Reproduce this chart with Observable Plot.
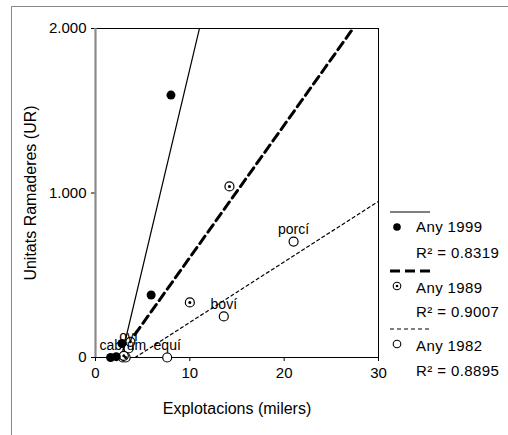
<!DOCTYPE html>
<html>
<head>
<meta charset="utf-8">
<script src="https://cdn.jsdelivr.net/npm/d3@7"></script>
<script src="https://cdn.jsdelivr.net/npm/@observablehq/plot@0.6"></script>
<style>
  html, body { margin: 0; padding: 0; background: #fff; }
  #wrap { position: relative; width: 508px; height: 435px; overflow: hidden; font-family: "Liberation Sans", Arial, sans-serif; }
  #frame { position: absolute; left: 11px; top: 6px; width: 497px; height: 429px; border-top: 1.5px solid #8a8a8a; border-left: 1.5px solid #8a8a8a; box-sizing: border-box; }
  #chart { position: absolute; left: 0; top: 0; }
  #legend { position: absolute; left: 0; top: 0; }
</style>
</head>
<body>
<div id="wrap">
  <div id="frame"></div>
  <div id="chart"></div>
  <svg id="legend" width="508" height="435"></svg>
</div>
<script>
// ---- data ----
const species = ["porcí", "boví", "oví", "cabrum", "equí"];
const x1999 = [8.0, 5.9, 2.8, 1.6, 2.2];
const y1999 = [1595, 380, 85, 0, 5];
const x1989 = [14.2, 10.0, 3.7, 3.2, 3.0];
const y1989 = [1040, 335, 95, 0, 10];
const x1982 = [21.0, 13.6, 3.5, 2.9, 7.6];
const y1982 = [705, 250, 55, 0, 0];
const years = ["Any 1999", "Any 1989", "Any 1982"];
const r2Values = ["0.8319", "0.9007", "0.8895"];
// fitted trend lines: y = slope * (x - xIntercept)
const fitSlope = [241.3, 80.45, 36.8];
const fitXIntercept = [2.73, 2.44, 4.2];
const fitXStart = [2.9, 3.3, 4.2];
const fitXEnd = [11.5, 28, 30];
const xTicks = [0, 10, 20, 30];
const yTicks = [0, 1000, 2000];

const pts = (xs, ys, year) => xs.map((x, i) => ({x, y: ys[i], species: species[i], year}));
const p1999 = pts(x1999, y1999, years[0]);
const p1989 = pts(x1989, y1989, years[1]);
const p1982 = pts(x1982, y1982, years[2]);
const fitLine = (k) => [fitXStart[k], fitXEnd[k]].map(x => ({x, y: fitSlope[k] * (x - fitXIntercept[k]), year: years[k]}));

const fmt = d => d === 0 ? "0" : d3.format(",")(d).replace(/,/g, ".");

const chart = Plot.plot({
  width: 508,
  height: 435,
  marginLeft: 95,
  marginRight: 130,
  marginTop: 28,
  marginBottom: 78,
  style: {fontFamily: "Liberation Sans, Arial, sans-serif", fontSize: "15px", color: "#000", background: "transparent", overflow: "visible"},
  x: {domain: [0, 30]},
  y: {domain: [0, 2000]},
  marks: [
    Plot.ruleY([2000], {stroke: "#000", strokeWidth: 1}),
    Plot.ruleX([30], {stroke: "#000", strokeWidth: 1}),
    Plot.axisX({ticks: xTicks, tickSize: 4, tickPadding: 6, label: null, fontSize: 15}),
    Plot.axisY({ticks: yTicks, tickSize: 4, tickPadding: 5, label: null, tickFormat: fmt, fontSize: 15}),
    Plot.ruleY([0], {stroke: "#000", strokeWidth: 1.2}),
    Plot.ruleX([0], {stroke: "#8a8a8a", strokeWidth: 2.2}),
    Plot.line(fitLine(0), {x: "x", y: "y", stroke: "#000", strokeWidth: 1.2, clip: true}),
    Plot.line(fitLine(1), {x: "x", y: "y", stroke: "#000", strokeWidth: 3, strokeDasharray: "9,5", clip: true}),
    Plot.line(fitLine(2), {x: "x", y: "y", stroke: "#000", strokeWidth: 1.2, strokeDasharray: "3,3", clip: true}),
    Plot.dot(p1982, {x: "x", y: "y", r: 4.5, stroke: "#000", strokeWidth: 1.2, fill: "#fff"}),
    Plot.dot(p1989, {x: "x", y: "y", r: 4.5, stroke: "#000", strokeWidth: 1.2, fill: "#fff"}),
    Plot.dot(p1989, {x: "x", y: "y", r: 1.5, fill: "#000", stroke: "none"}),
    Plot.dot(p1999, {x: "x", y: "y", r: 4.5, fill: "#000", stroke: "none"}),
    Plot.text(p1982, {x: "x", y: "y", text: "species", dy: -12, fontSize: 14, fill: "#000"}),
    Plot.text(["Explotacions (milers)"], {frameAnchor: "bottom", textAnchor: "middle", dy: 56, fontSize: 16, fill: "#000"}),
    Plot.text(["Unitats Ramaderes (UR)"], {frameAnchor: "left", textAnchor: "middle", dx: -65, rotate: -90, fontSize: 16, fill: "#000"})
  ]
});
document.getElementById("chart").appendChild(chart);

// ---- legend ----
const lg = d3.select("#legend");
const lx0 = 390, lx1 = 430, tx = 416, mx = 397;
const rows = [
  {lineY: 212, dash: null, w: 1.2, markY: 227, textY: 227, r2Y: 253, kind: "filled"},
  {lineY: 271, dash: "10,5", w: 3, markY: 286, textY: 288, r2Y: 312, kind: "dotted"},
  {lineY: 329, dash: "4,3", w: 1.2, markY: 344, textY: 346, r2Y: 371, kind: "open"}
];
rows.forEach((r, i) => {
  const ln = lg.append("line").attr("x1", lx0).attr("x2", lx1).attr("y1", r.lineY).attr("y2", r.lineY)
    .attr("stroke", "#000").attr("stroke-width", r.w);
  if (r.dash) ln.attr("stroke-dasharray", r.dash);
  if (r.kind === "filled") {
    lg.append("circle").attr("cx", mx).attr("cy", r.markY).attr("r", 3.8).attr("fill", "#000");
  } else {
    lg.append("circle").attr("cx", mx).attr("cy", r.markY).attr("r", 3.8).attr("fill", "#fff").attr("stroke", "#000").attr("stroke-width", 1.1);
    if (r.kind === "dotted") lg.append("circle").attr("cx", mx).attr("cy", r.markY).attr("r", 1.3).attr("fill", "#000");
  }
  lg.append("text").attr("x", tx).attr("y", r.textY).attr("dy", "0.35em")
    .style("font-family", "Liberation Sans, Arial, sans-serif").style("font-size", "15px").style("letter-spacing", "0.4px")
    .text(years[i]);
  lg.append("text").attr("x", tx).attr("y", r.r2Y).attr("dy", "0.35em")
    .style("font-family", "Liberation Sans, Arial, sans-serif").style("font-size", "15px").style("letter-spacing", "0.4px")
    .text("R² = " + r2Values[i]);
});
</script>
</body>
</html>
